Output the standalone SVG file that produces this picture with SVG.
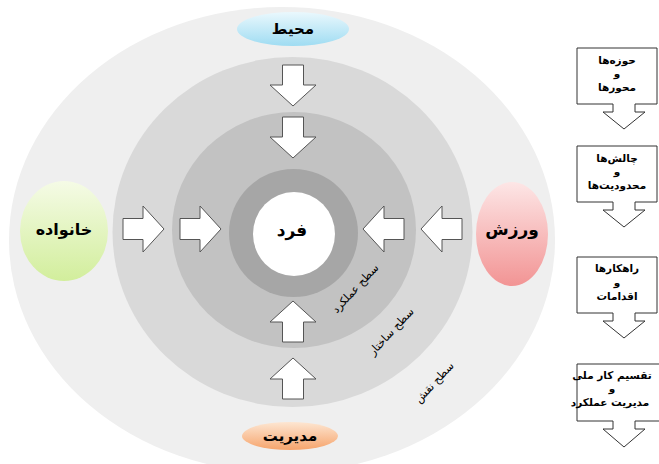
<svg xmlns="http://www.w3.org/2000/svg" width="659" height="464" viewBox="0 0 659 464">
  <defs>
    <linearGradient id="gBlue" x1="0" y1="0" x2="0" y2="1">
      <stop offset="0" stop-color="#eaf8fd"/>
      <stop offset="1" stop-color="#9fdcf2"/>
    </linearGradient>
    <linearGradient id="gOrange" x1="0" y1="0" x2="0" y2="1">
      <stop offset="0" stop-color="#fde6d2"/>
      <stop offset="1" stop-color="#f6a46c"/>
    </linearGradient>
    <linearGradient id="gGreen" x1="0" y1="0" x2="0" y2="1">
      <stop offset="0" stop-color="#f5fbe6"/>
      <stop offset="1" stop-color="#d2ee9c"/>
    </linearGradient>
    <linearGradient id="gRed" x1="0" y1="0" x2="0" y2="1">
      <stop offset="0" stop-color="#fde6e6"/>
      <stop offset="1" stop-color="#f29494"/>
    </linearGradient>
    <path id="blk" d="M0,-10.5 H20 V-23 L41,0 L20,23 V10.5 H0 Z"/>
  </defs>
  <style>
    .t { font-family: "DejaVu Sans", "Noto Sans", sans-serif; fill: #000; text-anchor: middle; direction: rtl; }
    .node { font-weight: bold; font-size: 15px; }
    .lvl { font-size: 11px; }
    .box { font-weight: bold; font-size: 10.5px; }
    .arr { fill: #fff; stroke: #555; stroke-width: 1; }
    .callout { fill: #fff; stroke: #333; stroke-width: 1; }
  </style>
  <rect width="659" height="464" fill="#fff"/>

  <g id="rings">
    <ellipse cx="282" cy="240" rx="273" ry="233" fill="#efefef"/>
    <ellipse cx="292.5" cy="232" rx="180" ry="175" fill="#d9d9d9"/>
    <ellipse cx="294" cy="230" rx="122" ry="118" fill="#c2c2c2"/>
    <ellipse cx="293.5" cy="233" rx="64.5" ry="64" fill="#a6a6a6"/>
  </g>

  <g id="levels">
    <text class="t lvl" transform="translate(358,291) rotate(-47)">سطح عملکرد</text>
    <text class="t lvl" transform="translate(394,334) rotate(-47)">سطح ساختار</text>
    <text class="t lvl" transform="translate(437,385) rotate(-47)">سطح نقش</text>
  </g>

  <g id="connectors">
    <use href="#blk" class="arr" transform="translate(123,229)"/>
    <use href="#blk" class="arr" transform="translate(180,229)"/>
    <use href="#blk" class="arr" transform="translate(404,229) rotate(180)"/>
    <use href="#blk" class="arr" transform="translate(462,229) rotate(180)"/>
    <use href="#blk" class="arr" transform="translate(293,65) rotate(90)"/>
    <use href="#blk" class="arr" transform="translate(293,117) rotate(90)"/>
    <use href="#blk" class="arr" transform="translate(293,342) rotate(-90)"/>
    <use href="#blk" class="arr" transform="translate(293,399) rotate(-90)"/>
  </g>

  <g id="individual">
    <ellipse cx="294" cy="234" rx="41" ry="42" fill="#fff"/>
    <text class="t node" x="292" y="236" style="font-size:17px">فرد</text>
  </g>
  <g id="environment">
    <ellipse cx="293" cy="29" rx="56" ry="17" fill="url(#gBlue)"/>
    <text class="t node" x="293" y="34">محیط</text>
  </g>
  <g id="management">
    <ellipse cx="290" cy="436" rx="48" ry="14" fill="url(#gOrange)"/>
    <text class="t node" x="290" y="441">مدیریت</text>
  </g>
  <g id="family">
    <ellipse cx="64" cy="231" rx="44" ry="50" fill="url(#gGreen)"/>
    <text class="t node" x="64" y="235" style="font-size:16px">خانواده</text>
  </g>
  <g id="sport">
    <ellipse cx="512" cy="234" rx="36" ry="52" fill="url(#gRed)"/>
    <text class="t node" x="512" y="235" style="font-size:17px">ورزش</text>
  </g>

  <g id="step1">
    <path class="callout" d="M577,48 H657 V104 H635 V112 H645 L624,129 L603,112 H613 V104 H577 Z"/>
    <text class="t box" x="617" y="64">حوزه‌ها</text>
    <text class="t box" x="617" y="77">و</text>
    <text class="t box" x="617" y="91">محورها</text>
  </g>
  <g id="step2">
    <path class="callout" d="M577,146 H657 V202 H635 V210 H645 L624,227 L603,210 H613 V202 H577 Z"/>
    <text class="t box" x="617" y="162">چالش‌ها</text>
    <text class="t box" x="617" y="175">و</text>
    <text class="t box" x="617" y="189">محدودیت‌ها</text>
  </g>
  <g id="step3">
    <path class="callout" d="M577,257 H657 V313 H635 V321 H645 L624,338 L603,321 H613 V313 H577 Z"/>
    <text class="t box" x="617" y="272">راهکارها</text>
    <text class="t box" x="617" y="286">و</text>
    <text class="t box" x="617" y="300">اقدامات</text>
  </g>
  <g id="step4">
    <path class="callout" d="M577,364 H660 V421 H635 V429 H645 L624,447 L603,429 H613 V421 H577 Z"/>
    <text class="t box" x="612" y="379">تقسیم کار ملی</text>
    <text class="t box" x="612" y="392">و</text>
    <text class="t box" x="610" y="406">مدیریت عملکرد</text>
  </g>
</svg>
